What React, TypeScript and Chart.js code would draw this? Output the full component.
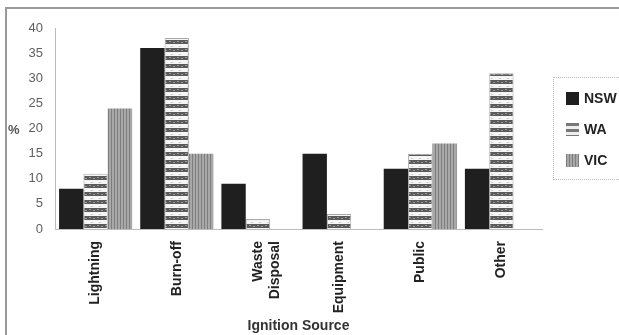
import React, { useEffect, useRef } from "react";
import { Chart, registerables } from "chart.js";

Chart.register(...registerables);

const categories: (string | string[])[] = ["Lightning", "Burn-off", ["Waste", "Disposal"], "Equipment", "Public", "Other"];
const nswValues = [8, 36, 9, 15, 12, 12];
const waValues = [11, 38, 2, 3, 15, 31];
const vicValues = [24, 15, 0, 0, 17, 0];
const seriesNames = ["NSW", "WA", "VIC"];
const yTicks = [0, 5, 10, 15, 20, 25, 30, 35, 40];
const xTitle = "Ignition Source";
const yTitle = "%";

function makeWaPattern(): CanvasPattern | string {
  const c = document.createElement("canvas");
  c.width = 8;
  c.height = 8;
  const ctx = c.getContext("2d");
  if (!ctx) return "#888";
  ctx.fillStyle = "#f4f4f4";
  ctx.fillRect(0, 0, 8, 8);
  ctx.fillStyle = "#5a5a5a";
  ctx.fillRect(0, 0, 8, 4);
  ctx.fillStyle = "#9a9a9a";
  ctx.fillRect(1, 1, 2, 1);
  ctx.fillRect(5, 2, 2, 1);
  ctx.fillStyle = "#cfcfcf";
  ctx.fillRect(3, 6, 2, 1);
  const p = ctx.createPattern(c, "repeat");
  return p || "#888";
}

function makeVicPattern(): CanvasPattern | string {
  const c = document.createElement("canvas");
  c.width = 3;
  c.height = 3;
  const ctx = c.getContext("2d");
  if (!ctx) return "#999";
  ctx.fillStyle = "#a8a8a8";
  ctx.fillRect(0, 0, 3, 3);
  ctx.fillStyle = "#7e7e7e";
  ctx.fillRect(0, 0, 1, 3);
  const p = ctx.createPattern(c, "repeat");
  return p || "#999";
}

export default function App() {
  const ref = useRef<HTMLCanvasElement | null>(null);

  useEffect(() => {
    if (!ref.current) return;
    const chart = new Chart(ref.current, {
      type: "bar",
      data: {
        labels: categories as any,
        datasets: [
          { label: seriesNames[0], data: nswValues, backgroundColor: "#1f1f1f", borderWidth: 0 },
          { label: seriesNames[1], data: waValues, backgroundColor: makeWaPattern() as any, borderColor: "#aaa", borderWidth: 1 },
          { label: seriesNames[2], data: vicValues, backgroundColor: makeVicPattern() as any, borderWidth: 0 },
        ],
      },
      options: {
        animation: false,
        responsive: false,
        layout: { padding: { top: 28, right: 77, left: 0, bottom: 0 } },
        plugins: { legend: { display: false }, tooltip: { enabled: false } },
        datasets: { bar: { categoryPercentage: 0.9, barPercentage: 1 } },
        scales: {
          x: {
            grid: { display: false },
            border: { color: "#bbb", dash: [2, 2] },
            ticks: {
              minRotation: 90,
              maxRotation: 90,
              padding: 4,
              color: "#222",
              font: { family: "Liberation Sans", size: 14, weight: "bold" },
            },
            title: {
              display: true,
              text: xTitle,
              color: "#333",
              font: { family: "Liberation Sans", size: 14, weight: "bold" },
              padding: { top: 4, bottom: 0 },
            },
            afterFit: (s: any) => {
              s.height = 106;
            },
          },
          y: {
            min: 0,
            max: 40,
            afterBuildTicks: (s: any) => {
              s.ticks = yTicks.map((v) => ({ value: v }));
            },
            grid: { display: false },
            border: { color: "#bbb", dash: [2, 2] },
            ticks: {
              padding: 4,
              color: "#606060",
              font: { family: "Liberation Sans", size: 13 },
            },
            afterFit: (s: any) => {
              s.width = 55;
            },
          },
        },
      },
    });
    return () => chart.destroy();
  }, []);

  const sw = (bg: string, extra: React.CSSProperties = {}) => (
    <span style={{ position: "absolute", left: 12, width: 13, height: 13, background: bg, ...extra }} />
  );
  const lbl: React.CSSProperties = {
    position: "absolute",
    left: 30,
    fontFamily: "Liberation Sans",
    fontWeight: "bold",
    fontSize: 14,
    color: "#222",
    lineHeight: "13px",
  };

  return (
    <div style={{ position: "fixed", left: 0, top: 0, width: 619, height: 335, background: "#fff", overflow: "hidden" }}>
      <div style={{ position: "absolute", left: 5, top: 7, width: 640, height: 360, border: "2px solid #999", boxSizing: "border-box" }} />
      <canvas ref={ref} width={619} height={335} style={{ position: "absolute", left: 0, top: 0, display: "block" }} />
      <span style={{ position: "absolute", left: 8, top: 122, fontFamily: "Liberation Sans", fontSize: 13, fontWeight: "bold", color: "#555" }}>{yTitle}</span>
      <div style={{ position: "absolute", left: 553, top: 77, width: 80, height: 103, border: "1px dotted #bbb", boxSizing: "border-box" }}>
        <div style={{ position: "absolute", top: 14, left: 0 }}>
          {sw("#1f1f1f")}
          <span style={lbl}>{seriesNames[0]}</span>
        </div>
        <div style={{ position: "absolute", top: 45, left: 0 }}>
          {sw("repeating-linear-gradient(to bottom, #777 0 3px, #eee 3px 6px)")}
          <span style={lbl}>{seriesNames[1]}</span>
        </div>
        <div style={{ position: "absolute", top: 76, left: 0 }}>
          {sw("repeating-linear-gradient(to right, #7e7e7e 0 1px, #a8a8a8 1px 3px)")}
          <span style={lbl}>{seriesNames[2]}</span>
        </div>
      </div>
    </div>
  );
}
